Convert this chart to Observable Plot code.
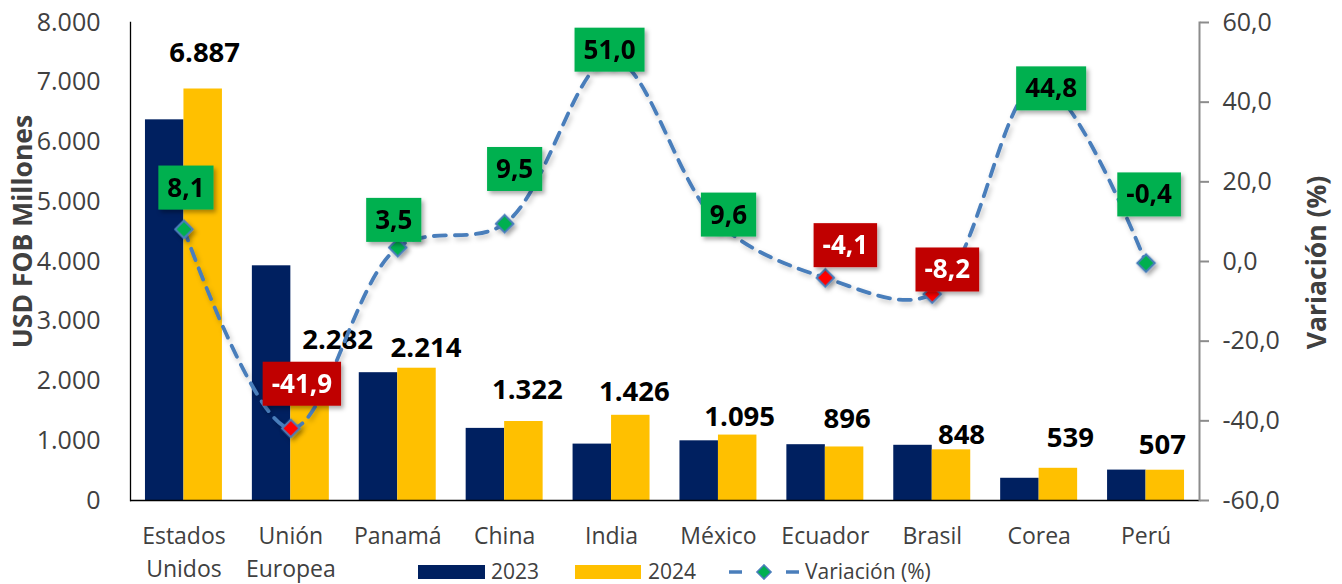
<!DOCTYPE html>
<html>
<head>
<meta charset="utf-8">
<script src="https://cdn.jsdelivr.net/npm/d3@7"></script>
<script src="https://cdn.jsdelivr.net/npm/@observablehq/plot@0.6"></script>
<style>
  body { margin: 0; background: #fff; font-family: "Open Sans", sans-serif; }
  #wrap { position: relative; width: 1342px; height: 584px; overflow: hidden; }
  .lg { position: absolute; top: 559px; height: 24px; display: flex; align-items: center; font-size: 21px; color: #404040; line-height: 24px; white-space: nowrap; }
  .sw { position: absolute; top: 565px; height: 14px; }
</style>
</head>
<body>
<div id="wrap">
  <div id="chart"></div>
  <div class="sw" style="left:418px;width:67px;background:#002060"></div>
  <div class="lg" style="left:491px">2023</div>
  <div class="sw" style="left:575px;width:66px;background:#FFC000"></div>
  <div class="lg" style="left:648px">2024</div>
  <svg style="position:absolute;left:727px;top:564px" width="74" height="16">
    <line x1="2" y1="8" x2="15" y2="8" stroke="#4A7EBB" stroke-width="3.5"/>
    <line x1="59" y1="8" x2="72" y2="8" stroke="#4A7EBB" stroke-width="3.5"/>
    <rect x="32" y="3" width="10" height="10" fill="#00B050" stroke="#4A7EBB" stroke-width="1.5" transform="rotate(45 37 8)"/>
  </svg>
  <div class="lg" style="left:805px">Variación (%)</div>
</div>
<script>
// ---- data ----
const countries = ["Estados Unidos", "Unión Europea", "Panamá", "China", "India", "México", "Ecuador", "Brasil", "Corea", "Perú"];
const exports2023 = [6371, 3928, 2139, 1207, 944, 999, 934, 924, 372, 509];
const exports2024 = [6887, 2282, 2214, 1322, 1426, 1095, 896, 848, 539, 507];
const variation = [8.1, -41.9, 3.5, 9.5, 51.0, 9.6, -4.1, -8.2, 44.8, -0.4];
const leftTicks = [0, 1000, 2000, 3000, 4000, 5000, 6000, 7000, 8000];
const rightTicks = [-60, -40, -20, 0, 20, 40, 60];
// label nudges (pixels), as the labels were placed by hand in the original
const barLabelDx = [1.5, 27.5, 9, 3.4, 3.5, 2, 2.5, 10, 12, -3];
const barLabelDy = [-36, -24, -20, -31, -23, -18, -28, -15, -30, -25];
const varLabelDx = [2, 11, -4, 10, -2, 10, 20, 15, 12, 3];
const varLabelDy = [-41, -44, -27, -54, -8, -8, -32, -24, 6, -68];

// ---- layout ----
const W = 1342, H = 584, ml = 130, mr = 143, mt = 22, mb = 84;
const pad = 0.28;
const step = (W - ml - mr) / countries.length;
const half = step * (1 - pad) / 2;

const toLeft = d3.scaleLinear([-60, 60], [0, 8000]);
const loc = d3.formatLocale({decimal: ",", thousands: ".", grouping: [3], currency: ["", ""], minus: "-"});
const fmtInt = loc.format(",d");
const fmtPct = loc.format(".1f");
const isDown = v => v <= -1;

const rows = countries.map((c, i) => ({country: c, v2023: exports2023[i], v2024: exports2024[i], variation: variation[i]}));

const chart = Plot.plot({
  width: W, height: H,
  marginLeft: ml, marginRight: mr, marginTop: mt, marginBottom: mb,
  style: {fontFamily: '"Open Sans", sans-serif', background: "#fff", overflow: "visible"},
  x: {type: "band", domain: countries, paddingInner: pad, paddingOuter: pad / 2, round: false},
  y: {domain: [0, 8000]},
  marks: [
    Plot.barY(rows, {x: "country", y: "v2023", fill: "#002060", insetLeft: 0, insetRight: half}),
    Plot.barY(rows, {x: "country", y: "v2024", fill: "#FFC000", insetLeft: half, insetRight: 0}),
    Plot.ruleY([0], {stroke: "#000", strokeWidth: 1.3}),
    Plot.frame({anchor: "left", stroke: "#000", strokeWidth: 1.3}),
    Plot.frame({anchor: "right", stroke: "#8c8c8c", strokeWidth: 2}),
    Plot.axisY(leftTicks, {anchor: "left", tickSize: 0, tickPadding: 30, tickFormat: d => fmtInt(d), fontSize: 25, fill: "#404040", label: null}),
    Plot.axisY(rightTicks.map(v => toLeft(v)), {anchor: "right", tickSize: 9, tickPadding: 14, tickFormat: d => fmtPct(toLeft.invert(d)), fontSize: 25, fill: "#404040", stroke: "#8c8c8c", strokeWidth: 2, label: null}),
    Plot.axisX({anchor: "bottom", tickSize: 0, tickPadding: 20, fontSize: 23, fill: "#404040", lineHeight: 1.43, tickFormat: d => d.replace(" ", "\n"), label: null}),
    ...rows.map((d, i) => Plot.text([d], {
      x: "country", y: "v2024", text: dd => fmtInt(dd.v2024),
      dx: half / 2 + barLabelDx[i], dy: barLabelDy[i], fontSize: 27.5, fontWeight: "bold", fill: "#000"
    })),
    Plot.line(rows, {x: "country", y: d => toLeft(d.variation), curve: "catmull-rom", stroke: "#4A7EBB", strokeWidth: 3.8, strokeDasharray: "12,9", className: "varline"}),
    Plot.dot(rows, {x: "country", y: d => toLeft(d.variation), symbol: "square", r: 7, rotate: 45, fill: d => isDown(d.variation) ? "#FF0000" : "#00B050", stroke: "#4A7EBB", strokeWidth: 2, className: "varmark"}),
    ...rows.map((d, i) => Plot.text([d], {
      x: "country", y: dd => toLeft(dd.variation), text: dd => fmtPct(dd.variation),
      dx: varLabelDx[i], dy: varLabelDy[i], fontSize: 26, fontWeight: "bold",
      fill: isDown(d.variation) ? "#ffffff" : "#000000", className: "varlab"
    })),
    Plot.text(["USD FOB Millones"], {text: d => d, frameAnchor: "left", textAnchor: "middle", rotate: -90, dx: -107, dy: -30, fontSize: 26.5, fontWeight: "bold", fill: "#404040"}),
    Plot.text(["Variación (%)"], {text: d => d, frameAnchor: "right", textAnchor: "middle", rotate: -90, dx: 118, dy: 1, fontSize: 26.5, fontWeight: "bold", fill: "#404040"})
  ]
});

document.getElementById("chart").append(chart);

// ---- call-out boxes and shadows ----
const ns = "http://www.w3.org/2000/svg";
const defs = document.createElementNS(ns, "defs");
defs.innerHTML = '<filter id="sh" x="-40%" y="-40%" width="180%" height="180%"><feDropShadow dx="2.5" dy="3" stdDeviation="2.2" flood-color="#000" flood-opacity="0.33"/></filter>' +
  '<filter id="shl" x="-10%" y="-10%" width="120%" height="120%"><feDropShadow dx="2" dy="3" stdDeviation="2.5" flood-color="#000" flood-opacity="0.22"/></filter>';
chart.prepend(defs);
const vl = chart.querySelector("g.varline");
if (vl) vl.setAttribute("filter", "url(#shl)");
const vm = chart.querySelector("g.varmark");
if (vm) vm.setAttribute("filter", "url(#sh)");
chart.querySelectorAll("g.varlab").forEach((g, i) => {
  const d = rows[i];
  g.querySelectorAll("text").forEach(t => {
    const bb = t.getBBox();
    const r = document.createElementNS(ns, "rect");
    const cy = bb.y + bb.height / 2 + 1;
    r.setAttribute("x", bb.x - 9);
    r.setAttribute("width", bb.width + 18);
    r.setAttribute("y", cy - 22);
    r.setAttribute("height", 44);
    const tr = t.getAttribute("transform");
    if (tr) r.setAttribute("transform", tr);
    r.setAttribute("fill", isDown(d.variation) ? "#C00000" : "#00B050");
    r.setAttribute("filter", "url(#sh)");
    g.insertBefore(r, t);
  });
});
</script>
</body>
</html>
